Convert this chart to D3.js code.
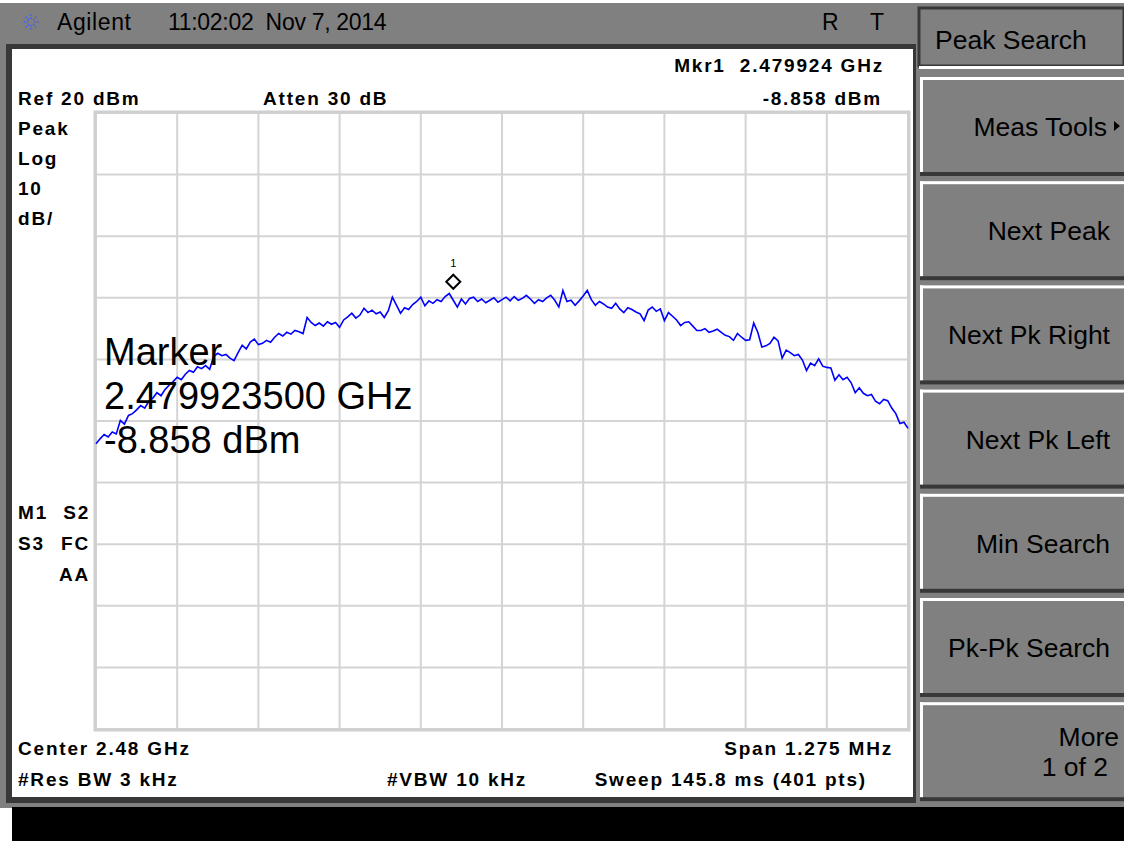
<!DOCTYPE html>
<html>
<head>
<meta charset="utf-8">
<script src="https://cdn.jsdelivr.net/npm/d3@7"></script>
<style>
  body { margin: 0; background: #fff; }
  svg text { font-family: "Liberation Sans", Arial, sans-serif; white-space: pre; }
  .lbl { font-weight: bold; font-size: 19px; letter-spacing: 1.8px; fill: #000; }
  .key { font-size: 26.5px; fill: #000; }
</style>
</head>
<body>
<div id="chart"></div>
<script>
// analyzer settings (GHz / dBm)
const centerFreq = 2.48;
const spanFreq = 0.001275;
const refLevel = 20;
const dbPerDiv = 10;
const yTicks = [20, 10, 0, -10, -20, -30, -40, -50, -60, -70, -80];

// marker 1
const markerFreq = 2.4799235;
const markerLabel = "2.479924";
const markerDbm = -8.858;

// trace, every 2 of the 401 pts
const traceDbm = [
  -33.7, -32.9, -32.2, -32.6, -31.8, -32.1, -29.9, -30.5, -29.1, -28.8,
  -28.2, -27.5, -27.9, -26.8, -26.3, -25.4, -25.9, -24.9, -24.2, -23.6,
  -22.9, -23.3, -22.4, -21.8, -22.1, -21.2, -21.5, -21.0, -21.6, -19.5,
  -19.0, -19.4, -19.2, -19.8, -20.2, -18.9, -17.7, -18.3, -17.2, -16.7,
  -17.6, -17.4, -16.9, -17.2, -16.4, -15.8, -16.2, -15.6, -15.9, -15.3,
  -15.5, -15.8, -13.2, -14.0, -14.5, -14.1, -14.6, -13.9, -14.3, -14.0,
  -14.8, -13.6, -13.1, -12.5, -13.3, -12.8, -11.7, -12.4, -12.0, -12.6,
  -12.3, -13.2, -12.1, -9.9, -11.2, -12.5, -11.6, -11.9, -11.1, -10.6,
  -9.9, -11.3, -10.5, -10.9, -10.3, -10.6, -9.8, -9.3, -10.4, -11.5,
  -10.2, -11.0, -10.1, -9.9, -10.6, -10.2, -10.8, -10.4, -10.0, -10.7,
  -10.3, -9.9, -10.5, -9.8, -10.4, -10.1, -9.6, -10.2, -10.9, -10.3,
  -10.6, -10.0, -9.6, -10.4, -11.5, -8.8, -10.6, -10.4, -11.2, -10.5,
  -9.7, -8.8, -10.3, -11.2, -10.6, -11.0, -11.5, -11.7, -10.9, -11.8,
  -12.4, -11.6, -11.9, -12.3, -12.6, -13.7, -12.0, -11.5, -12.2, -11.8,
  -13.7, -12.4, -13.0, -13.6, -14.5, -14.0, -13.9, -14.6, -15.3, -15.3,
  -15.0, -15.6, -15.4, -15.1, -15.6, -16.1, -16.3, -16.9, -15.8, -16.4,
  -16.9, -16.8, -14.1, -15.6, -18.0, -17.8, -17.4, -16.4, -17.0, -19.8,
  -18.5, -18.9, -19.4, -19.2, -20.1, -21.8, -20.6, -21.0, -19.9, -21.1,
  -21.3, -21.4, -23.4, -22.5, -23.3, -22.9, -23.8, -25.4, -24.6, -25.5,
  -25.9, -25.7, -26.8, -27.2, -26.5, -26.7, -27.9, -28.8, -30.4, -30.2,
  -31.2
];

const headerLeft = ["Agilent", "11:02:02  Nov 7, 2014"];
const statusFlags = ["R", "T"];
const leftInfo = ["Peak", "Log", "10", "dB/"];
const leftFlags = [["M1", "S2"], ["S3", "FC"], ["", "AA"]];
const softkeys = ["Meas Tools", "Next Peak", "Next Pk Right", "Next Pk Left", "Min Search", "Pk-Pk Search", "More"];

const W = 1124, H = 843;
const svg = d3.select("#chart").append("svg")
  .attr("width", W).attr("height", H);

// frame: gray bezel, white screen, black message line
svg.append("rect").attr("x", 0).attr("y", 3).attr("width", W).attr("height", 805).attr("fill", "#808080");
svg.append("rect").attr("x", 6).attr("y", 44).attr("width", 910).attr("height", 757).attr("fill", "#383838");
svg.append("rect").attr("x", 12).attr("y", 49).attr("width", 901).attr("height", 748).attr("fill", "#fff");
svg.append("rect").attr("x", 12).attr("y", 807).attr("width", W - 12).attr("height", 34).attr("fill", "#000");
svg.append("rect").attr("x", 0).attr("y", 801).attr("width", W).attr("height", 6).attr("fill", "#808080");
svg.append("rect").attr("x", 6).attr("y", 801).attr("width", 910).attr("height", 2).attr("fill", "#383838");

// header bar
const logo = svg.append("g").attr("transform", "translate(31,22)");
d3.range(8).forEach(i => {
  const a = i * Math.PI / 4;
  logo.append("line")
    .attr("x1", 3 * Math.cos(a)).attr("y1", 3 * Math.sin(a))
    .attr("x2", 9 * Math.cos(a)).attr("y2", 9 * Math.sin(a))
    .attr("stroke", "#3d5cff").attr("stroke-width", 1.5).attr("stroke-dasharray", "1.5,1.5");
});
svg.append("text").attr("x", 57).attr("y", 30).attr("font-size", 23).attr("letter-spacing", 0.6).text(headerLeft[0]);
svg.append("text").attr("x", 168).attr("y", 30).attr("font-size", 23).attr("letter-spacing", -0.3).text(headerLeft[1]);
svg.append("text").attr("x", 822).attr("y", 30).attr("font-size", 23).text(statusFlags[0]);
svg.append("text").attr("x", 870).attr("y", 30).attr("font-size", 23).text(statusFlags[1]);

// softkeys
const keyX = 919;
const pk = svg.append("g");
pk.append("rect").attr("x", keyX).attr("y", 8).attr("width", W - keyX).attr("height", 58)
  .attr("fill", "#808080").attr("stroke", "#383838").attr("stroke-width", 3);
pk.append("rect").attr("x", keyX).attr("y", 66).attr("width", W - keyX).attr("height", 3).attr("fill", "#fff");
pk.append("text").attr("class", "key").attr("x", 935).attr("y", 49).text("Peak Search");

softkeys.forEach((k, i) => {
  const top = 77 + i * 104.2;
  const g = svg.append("g");
  g.append("rect").attr("x", keyX + 1).attr("y", top).attr("width", W - keyX).attr("height", 3).attr("fill", "#fff");
  g.append("rect").attr("x", keyX + 1).attr("y", top).attr("width", 3).attr("height", 97).attr("fill", "#fff");
  g.append("rect").attr("x", keyX + 1).attr("y", top + 95).attr("width", W - keyX).attr("height", 4).attr("fill", "#383838");
  if (k === "More") {
    g.append("text").attr("class", "key").attr("text-anchor", "end").attr("x", 1119).attr("y", top + 44).text("More");
    g.append("text").attr("class", "key").attr("text-anchor", "end").attr("x", 1108).attr("y", top + 74).text("1 of 2");
  } else {
    g.append("text").attr("class", "key").attr("text-anchor", "end")
      .attr("x", k === "Meas Tools" ? 1107 : 1110).attr("y", top + 59).text(k);
  }
  if (k === "Meas Tools") {
    g.append("path").attr("d", `M1114,${top + 44}l6,5l-6,5z`).attr("fill", "#000");
  }
});

// graticule
const x = d3.scaleLinear()
  .domain([centerFreq - spanFreq / 2, centerFreq + spanFreq / 2])
  .range([96, 908]);
const y = d3.scaleLinear()
  .domain([refLevel - 10 * dbPerDiv, refLevel])
  .range([729, 113]);
const xTicks = d3.range(11).map(i => centerFreq - spanFreq / 2 + i * spanFreq / 10);

const grid = svg.append("g").attr("stroke", "#d4d4d4").attr("stroke-width", 2);
grid.selectAll(".vx").data(xTicks).enter().append("line")
  .attr("x1", d => x(d)).attr("x2", d => x(d)).attr("y1", y(refLevel)).attr("y2", y(refLevel - 10 * dbPerDiv));
grid.selectAll(".hy").data(yTicks).enter().append("line")
  .attr("y1", d => y(d)).attr("y2", d => y(d)).attr("x1", x.range()[0]).attr("x2", x.range()[1]);
svg.append("rect").attr("x", 95).attr("y", 112).attr("width", 814).attr("height", 618)
  .attr("fill", "none").attr("stroke", "#cfcfcf").attr("stroke-width", 3);

// trace
const step = spanFreq / (traceDbm.length - 1);
const line = d3.line()
  .x((d, i) => x(x.domain()[0] + i * step))
  .y(d => y(d));
svg.append("path").datum(traceDbm)
  .attr("d", line)
  .attr("fill", "none").attr("stroke", "#0000ff").attr("stroke-width", 1.6);

// marker diamond
const mx = x(markerFreq), my = y(markerDbm);
svg.append("path")
  .attr("d", `M${mx},${my - 16}l7,7l-7,7l-7,-7z`)
  .attr("fill", "#fff").attr("stroke", "#000").attr("stroke-width", 2);
svg.append("text").attr("x", mx).attr("y", my - 24).attr("text-anchor", "middle")
  .attr("font-size", 11).attr("font-family", "DejaVu Sans Mono").text("1");

// annotation text
svg.append("text").attr("class", "lbl").attr("x", 884).attr("y", 72).attr("text-anchor", "end")
  .text(`Mkr1  ${markerLabel} GHz`);
svg.append("text").attr("class", "lbl").attr("x", 882).attr("y", 105).attr("text-anchor", "end")
  .text(`${markerDbm.toFixed(3)} dBm`);
svg.append("text").attr("class", "lbl").attr("x", 18).attr("y", 105).text(`Ref ${refLevel} dBm`);
svg.append("text").attr("class", "lbl").attr("x", 263).attr("y", 105).text("Atten 30 dB");
leftInfo.forEach((t, i) => {
  svg.append("text").attr("class", "lbl").attr("x", 18).attr("y", 135 + i * 30).text(t);
});
leftFlags.forEach((r, i) => {
  svg.append("text").attr("class", "lbl").attr("x", 18).attr("y", 519 + i * 31).text(r[0]);
  svg.append("text").attr("class", "lbl").attr("x", 90).attr("y", 519 + i * 31).attr("text-anchor", "end").text(r[1]);
});
svg.append("text").attr("class", "lbl").attr("x", 18).attr("y", 755).text(`Center ${centerFreq} GHz`);
svg.append("text").attr("class", "lbl").attr("x", 18).attr("y", 786).text("#Res BW 3 kHz");
svg.append("text").attr("class", "lbl").attr("x", 387).attr("y", 786).text("#VBW 10 kHz");
svg.append("text").attr("class", "lbl").attr("x", 893).attr("y", 755).attr("text-anchor", "end")
  .text(`Span ${(spanFreq * 1000).toFixed(3)} MHz`);
svg.append("text").attr("class", "lbl").attr("x", 867).attr("y", 786).attr("text-anchor", "end")
  .text("Sweep 145.8 ms (401 pts)");

// big marker readout
const readout = ["Marker", "2.479923500 GHz", `${markerDbm.toFixed(3)} dBm`];
readout.forEach((t, i) => {
  svg.append("text").attr("x", 104).attr("y", 365 + i * 44).attr("font-size", 38).attr("fill", "#000").text(t);
});
</script>
</body>
</html>
